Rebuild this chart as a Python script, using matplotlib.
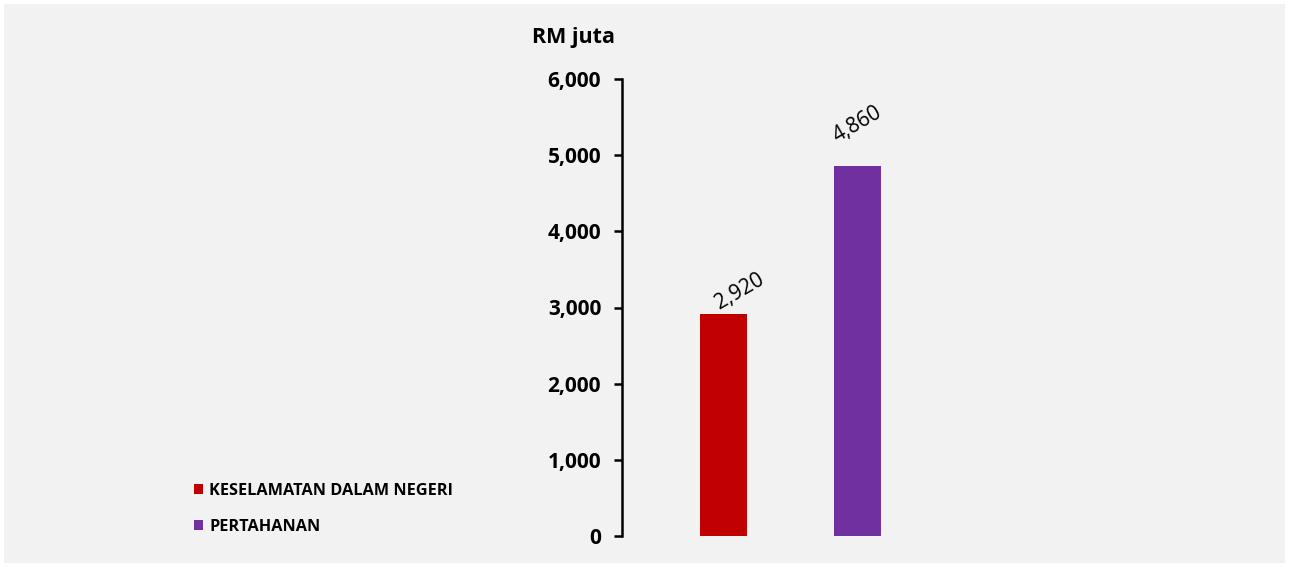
import matplotlib
matplotlib.use("Agg")
import matplotlib.pyplot as plt
from matplotlib.patches import Patch, Rectangle

categories = ["KESELAMATAN DALAM NEGERI", "PERTAHANAN"]
values = [2920, 4860]
colors = ["#C00000", "#7030A0"]
yticks = [0, 1000, 2000, 3000, 4000, 5000, 6000]
ytick_labels = ["0", "1,000", "2,000", "3,000", "4,000", "5,000", "6,000"]
unit_label = "RM juta"

plt.rcParams['font.family'] = ['Open Sans', 'DejaVu Sans']

W, H = 1289, 567
fig = plt.figure(figsize=(W / 100, H / 100), dpi=100)
fig.patch.set_facecolor("white")
fig.add_artist(Rectangle((4 / W, 4 / H), (W - 8) / W, (H - 8) / H,
                         transform=fig.transFigure, facecolor="#F2F2F2",
                         edgecolor="none", zorder=0))

left, right = 622, 1000
bottom, top = 536, 79
ax = fig.add_axes([left / W, (H - bottom) / H, (right - left) / W, (bottom - top) / H])
ax.set_facecolor("none")

x = list(range(len(values)))
ax.bar(x, values, width=0.351, color=colors, zorder=2)
ax.set_xlim(-0.757, 2.063)
ax.set_ylim(0, 6000)

for s in ["top", "right", "bottom"]:
    ax.spines[s].set_visible(False)
ax.spines["left"].set_linewidth(1.8)
ax.spines["left"].set_color("#000000")
ax.set_xticks([])
ax.set_yticks(yticks)
ax.set_yticklabels(ytick_labels, fontsize=15, fontweight="bold")
ax.tick_params(axis="y", length=6, width=1.8, pad=9, colors="#000000")

label_offsets = [(16, 22), (0, 41)]
for xi, v, (dx, dy) in zip(x, values, label_offsets):
    ax.annotate(f"{v:,}", (xi, v), xytext=(dx * 0.72, dy * 0.72), textcoords="offset points",
                ha="center", va="center", rotation=30, fontsize=15, color="#000000")

fig.text(574 / W, (H - 38) / H, unit_label, ha="center", va="center",
         fontsize=15.5, fontweight="bold")

handles = [Patch(facecolor=c, edgecolor="none") for c in colors]
leg = fig.legend(handles, categories, loc="upper left",
                 bbox_to_anchor=(179 / W, (H - 468) / H),
                 frameon=False, handlelength=0.6, handleheight=0.6,
                 handletextpad=0.35, labelspacing=1.25,
                 prop={"weight": "bold", "size": 11.7})

fig.savefig("out.png", dpi=100)
